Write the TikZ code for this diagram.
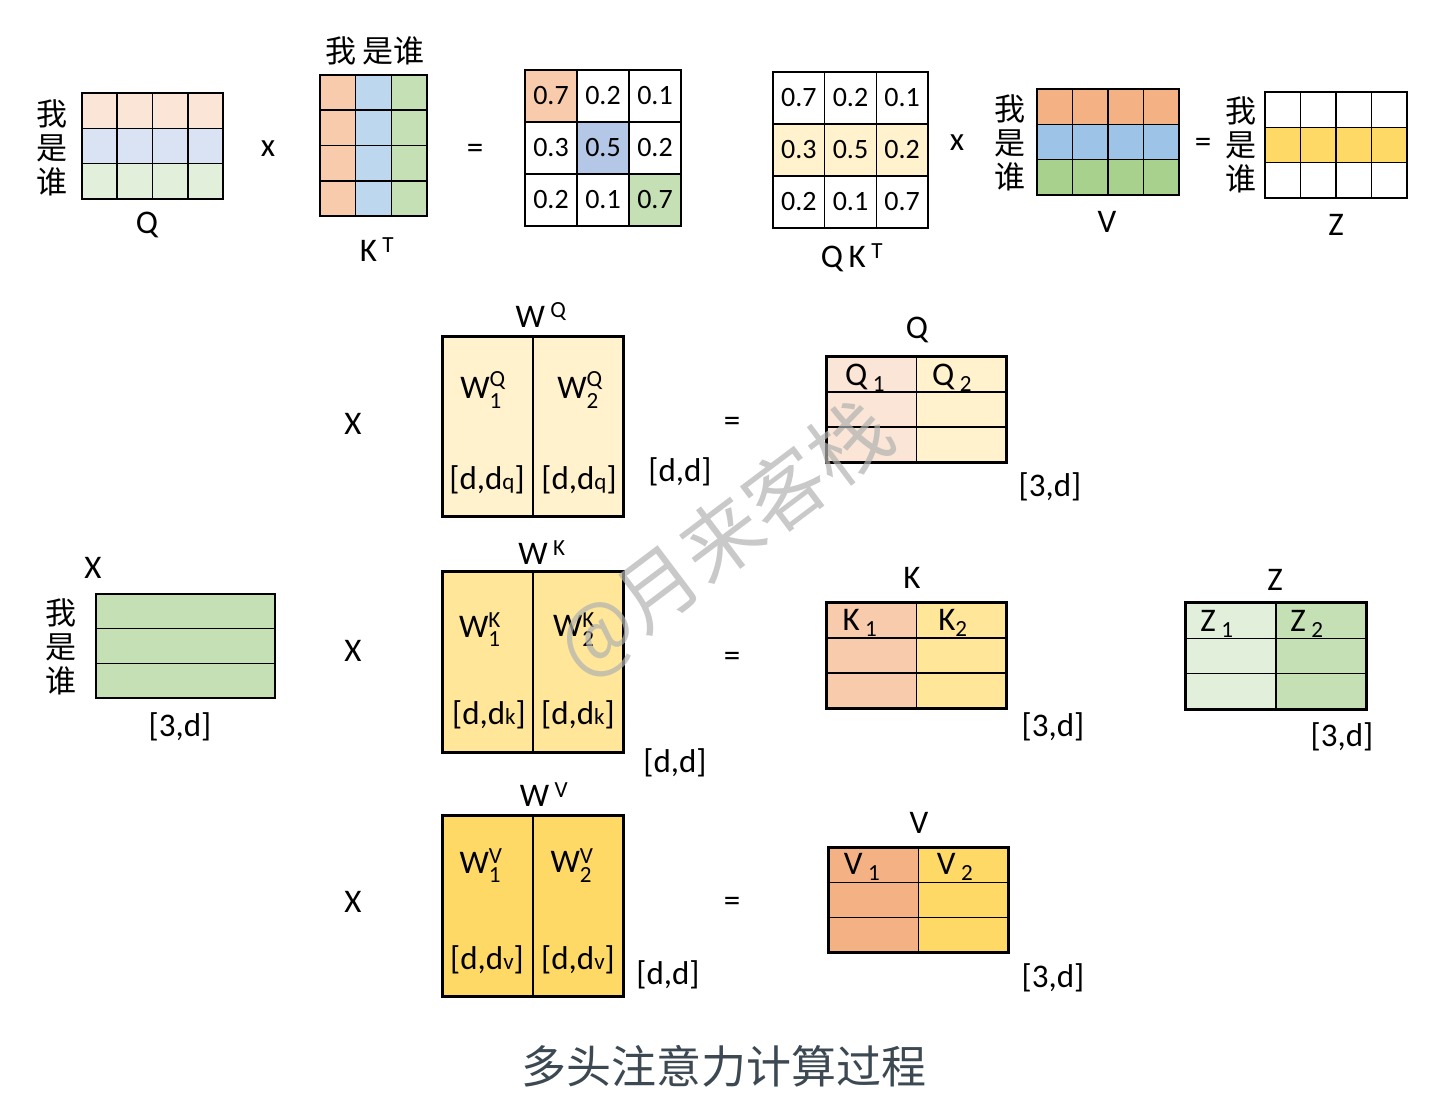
\documentclass[tikz,border=0pt]{standalone}
\usepackage{fontspec}
\usepackage{amsmath}
\setmainfont{Carlito}
\newfontfamily\cjk{Noto Sans CJK SC}
\usetikzlibrary{matrix,positioning}
\definecolor{qor}{HTML}{FBE5D6}
\definecolor{qbl}{HTML}{DAE3F3}
\definecolor{qgr}{HTML}{E2EFDA}
\definecolor{kor}{HTML}{F8CBAD}
\definecolor{kbl}{HTML}{BDD7EE}
\definecolor{kgr}{HTML}{C5E0B4}
\definecolor{vor}{HTML}{F4B183}
\definecolor{vbl}{HTML}{9DC3E6}
\definecolor{vgr}{HTML}{A9D18E}
\definecolor{abl}{HTML}{B4C7E7}
\definecolor{ylite}{HTML}{FFF2CC}
\definecolor{ymid}{HTML}{FFE699}
\definecolor{ydark}{HTML}{FFD966}
\definecolor{titlec}{HTML}{3C4852}

\begin{document}
\begin{tikzpicture}[x=1pt, y=-1pt,
    lbl/.style={font=\fontsize{33}{36}\selectfont},
    num/.style={font=\fontsize{28}{30}\selectfont},
    zh/.style={font=\cjk\fontsize{31}{34}\selectfont, align=center},
    mtx/.style={matrix of nodes, nodes in empty cells, inner sep=0pt,
      column sep=-#1, row sep=-#1,
      nodes={draw, line width=#1, inner sep=0pt, anchor=center}},
    rim/.style={line width=2.8pt}]
  \useasboundingbox (0,0) rectangle (1436,1106);

  \matrix (qtop) [mtx=1.6pt, nodes={minimum width=35.25pt, minimum height=35.3pt},
    row 1/.style={nodes={fill=qor}}, row 2/.style={nodes={fill=qbl}}, row 3/.style={nodes={fill=qgr}}]
    at (152.5,146) { & & & \\ & & & \\ & & & \\ };
  \node[zh] (qwho) at (52,148) {我\\是\\谁};
  \node[lbl] (qname) at (147,225) {Q};
  \node[lbl] (times1) at (268,149) {x};

  \matrix (kt) [mtx=1.6pt, nodes={minimum width=35.7pt, minimum height=35.25pt},
    column 1/.style={nodes={fill=kor}}, column 2/.style={nodes={fill=kbl}}, column 3/.style={nodes={fill=kgr}}]
    at (373.5,145.5) { & & \\ & & \\ & & \\ & & \\ };
  \node[zh] (ktwho) at (375,51) {我 是谁};
  \node[lbl] (ktname) at (377,250) {K\,\textsuperscript{T}};
  \node[lbl] (eq1) at (475,151) {=};

  \matrix (att) [mtx=1.6pt, nodes={minimum size=52pt, num}] at (603,148) {
    |[fill=kor]| 0.7 & 0.2 & 0.1 \\
    0.3 & |[fill=abl]| 0.5 & 0.2 \\
    0.2 & 0.1 & |[fill=kgr]| 0.7 \\
  };

  \matrix (qkt) [mtx=1.6pt, nodes={minimum width=51.7pt, minimum height=52pt, num},
    row 2/.style={nodes={fill=ylite}}] at (850.5,150) {
    0.7 & 0.2 & 0.1 \\
    0.3 & 0.5 & 0.2 \\
    0.2 & 0.1 & 0.7 \\
  };
  \node[lbl] (qktname) at (852,258) {Q\,K\,\textsuperscript{T}};
  \node[lbl] (times2) at (957,143) {x};

  \matrix (vtop) [mtx=1.6pt, nodes={minimum width=35.5pt, minimum height=35.3pt},
    row 1/.style={nodes={fill=vor}}, row 2/.style={nodes={fill=vbl}}, row 3/.style={nodes={fill=vgr}}]
    at (1108,142) { & & & \\ & & & \\ & & & \\ };
  \node[zh] (vwho) at (1010,143) {我\\是\\谁};
  \node[lbl] (vname) at (1107,222) {V};
  \node[lbl] (eq2) at (1203,145) {=};

  \matrix (ztop) [mtx=1.6pt, nodes={minimum width=35.5pt, minimum height=35.3pt},
    row 2/.style={nodes={fill=ydark}}]
    at (1336,145) { & & & \\ & & & \\ & & & \\ };
  \node[zh] (zwho) at (1241,145) {我\\是\\谁};
  \node[lbl] (zname) at (1336,225) {Z};

  \matrix (xin) [mtx=1.5pt, nodes={minimum width=179pt, minimum height=34.7pt, fill=kgr}]
    at (185.5,646) { \\ \\ \\ };
  \node[lbl] (xname) at (93,568) {X};
  \node[zh] (xwho) at (61,647) {我\\是\\谁};
  \node[lbl] (xdim) at (180,727) {[3,d]};

  \matrix (wq) [mtx=1.2pt, nodes={minimum width=90pt, minimum height=179pt, fill=ylite}]
    at (533,426.5) { & \\ };
  \draw[rim] (wq-1-1.north west) rectangle (wq-1-2.south east);
  \node[lbl] (wqname) at (541,315) {W\,\textsuperscript{Q}};
  \node[lbl] (wq1) at (483,390) {W\ensuremath{^{\text{Q}}_{\text{1}}}};
  \node[lbl] (wq2) at (580,390) {W\ensuremath{^{\text{Q}}_{\text{2}}}};
  \node[lbl] (wq1d) at (487,480) {[d,d{\fontsize{23}{23}\selectfont q}]};
  \node[lbl] (wq2d) at (579,480) {[d,d{\fontsize{23}{23}\selectfont q}]};
  \node[lbl] (wqdim) at (680,472) {[d,d]};
  \node[lbl] (xq) at (353,424) {X};
  \node[lbl] (eqq) at (732,424) {=};

  \matrix (qres) [mtx=1.2pt, nodes={minimum width=89.5pt, minimum height=35pt},
    column 1/.style={nodes={fill=qor}}, column 2/.style={nodes={fill=ylite}}]
    at (916.5,409.5) { & \\ & \\ & \\ };
  \draw[rim] (qres-1-1.north west) rectangle (qres-3-2.south east);
  \node[lbl] (qresname) at (917,330) {Q};
  \node[lbl] (q1) at (865,378) {Q\,\textsubscript{1}};
  \node[lbl] (q2) at (952,378) {Q\,\textsubscript{2}};
  \node[lbl] (qresdim) at (1050,487) {[3,d]};

  \matrix (wk) [mtx=1.2pt, nodes={minimum width=90pt, minimum height=180pt, fill=ymid}]
    at (533,662) { & \\ };
  \draw[rim] (wk-1-1.north west) rectangle (wk-1-2.south east);
  \node[lbl] (wkname) at (542,553) {W\,\textsuperscript{K}};
  \node[lbl] (wk1) at (480,630) {W\ensuremath{^{\text{K}}_{\text{1}}}};
  \node[lbl] (wk2) at (574,630) {W\ensuremath{^{\text{K}}_{\text{2}}}};
  \node[lbl] (wk1d) at (489,715) {[d,d{\fontsize{23}{23}\selectfont k}]};
  \node[lbl] (wk2d) at (578,715) {[d,d{\fontsize{23}{23}\selectfont k}]};
  \node[lbl] (wkdim) at (675,763) {[d,d]};
  \node[lbl] (xk) at (353,651) {X};
  \node[lbl] (eqk) at (732,659) {=};

  \matrix (kres) [mtx=1.2pt, nodes={minimum width=89.5pt, minimum height=35pt},
    column 1/.style={nodes={fill=kor}}, column 2/.style={nodes={fill=ymid}}]
    at (916.5,655.5) { & \\ & \\ & \\ };
  \draw[rim] (kres-1-1.north west) rectangle (kres-3-2.south east);
  \node[lbl] (kresname) at (912,578) {K};
  \node[lbl] (k1) at (860,623) {K\,\textsubscript{1}};
  \node[lbl] (k2) at (953,623) {K\textsubscript{2}};
  \node[lbl] (kresdim) at (1053,727) {[3,d]};

  \matrix (zres) [mtx=1.2pt, nodes={minimum width=90pt, minimum height=35.3pt},
    column 1/.style={nodes={fill=qgr}}, column 2/.style={nodes={fill=kgr}}]
    at (1276,656) { & \\ & \\ & \\ };
  \draw[rim] (zres-1-1.north west) rectangle (zres-3-2.south east);
  \node[lbl] (zresname) at (1275,580) {Z};
  \node[lbl] (z1) at (1217,624) {Z\,\textsubscript{1}};
  \node[lbl] (z2) at (1307,624) {Z\,\textsubscript{2}};
  \node[lbl] (zresdim) at (1342,737) {[3,d]};

  \matrix (wv) [mtx=1.2pt, nodes={minimum width=90pt, minimum height=180pt, fill=ydark}]
    at (533,906) { & \\ };
  \draw[rim] (wv-1-1.north west) rectangle (wv-1-2.south east);
  \node[lbl] (wvname) at (544,795) {W\,\textsuperscript{V}};
  \node[lbl] (wv1) at (481,866) {W\ensuremath{^{\text{V}}_{\text{1}}}};
  \node[lbl] (wv2) at (572,866) {W\ensuremath{^{\text{V}}_{\text{2}}}};
  \node[lbl] (wv1d) at (487,960) {[d,d{\fontsize{23}{23}\selectfont v}]};
  \node[lbl] (wv2d) at (578,960) {[d,d{\fontsize{23}{23}\selectfont v}]};
  \node[lbl] (wvdim) at (668,975) {[d,d]};
  \node[lbl] (xv) at (353,902) {X};
  \node[lbl] (eqv) at (732,904) {=};

  \matrix (vres) [mtx=1.2pt, nodes={minimum width=89.5pt, minimum height=34.7pt},
    column 1/.style={nodes={fill=vor}}, column 2/.style={nodes={fill=ydark}}]
    at (918.5,900) { & \\ & \\ & \\ };
  \draw[rim] (vres-1-1.north west) rectangle (vres-3-2.south east);
  \node[lbl] (vresname) at (919,823) {V};
  \node[lbl] (v1) at (862,867) {V\,\textsubscript{1}};
  \node[lbl] (v2) at (955,867) {V\,\textsubscript{2}};
  \node[lbl] (vresdim) at (1053,978) {[3,d]};

  \node[font=\cjk\fontsize{45}{50}\selectfont, text=titlec] (title) at (724,1066) {多头注意力计算过程};

  \node[rotate=37, text=black!30, opacity=0.7, font=\cjk\fontsize{80}{80}\selectfont] (mark) at (725,540) {@月来客栈};
\end{tikzpicture}
\end{document}
